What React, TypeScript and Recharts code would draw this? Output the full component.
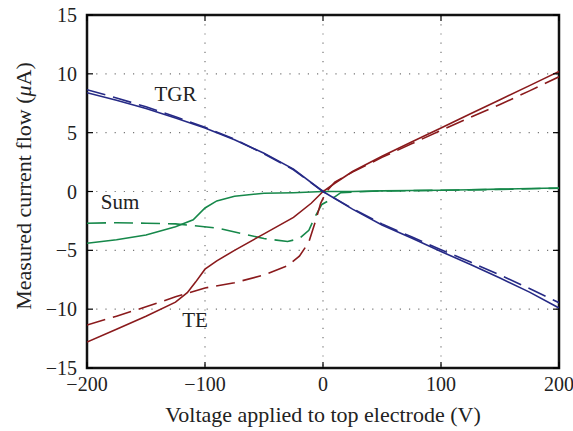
import React from 'react';
import { LineChart, Line, XAxis, YAxis, CartesianGrid, ReferenceArea, ReferenceDot } from 'recharts';

const xTicks = [-200, -100, 0, 100, 200];
const yTicks = [-15, -10, -5, 0, 5, 10, 15];

const tgrSolidV = [-200, -175, -150, -125, -100, -75, -50, -25, 0, 25, 50, 75, 100, 125, 150, 175, 200];
const tgrSolidI = [8.4, 7.75, 7.05, 6.25, 5.4, 4.4, 3.25, 1.9, 0, -1.5, -2.85, -3.95, -5.1, -6.2, -7.35, -8.55, -9.9];
const tgrDashV = [-200, -175, -150, -125, -100, -75, -50, -25, 0, 25, 50, 75, 100, 125, 150, 175, 200];
const tgrDashI = [8.65, 7.95, 7.2, 6.35, 5.45, 4.45, 3.2, 1.85, 0, -1.45, -2.75, -3.85, -4.95, -6.0, -7.1, -8.25, -9.45];

const teSolidV = [-200, -175, -150, -125, -115, -108, -100, -90, -75, -50, -25, -10, 0, 10, 25, 50, 75, 100, 125, 150, 175, 200];
const teSolidI = [-12.8, -11.7, -10.6, -9.4, -8.6, -7.7, -6.6, -5.9, -5.0, -3.6, -2.2, -1.0, 0, 0.7, 1.7, 3.0, 4.2, 5.4, 6.6, 7.8, 9.0, 10.2];
const teDashV = [-200, -175, -150, -125, -100, -75, -50, -30, -20, -12, -6, -2, 3, 10, 25, 50, 75, 100, 125, 150, 175, 200];
const teDashI = [-11.35, -10.6, -9.8, -8.95, -8.2, -7.75, -7.1, -6.3, -5.5, -4.3, -2.4, -1.0, 0, 0.8, 1.65, 2.9, 4.05, 5.2, 6.3, 7.4, 8.55, 9.75];

const sumSolidV = [-200, -175, -150, -125, -110, -100, -90, -75, -50, -25, 0, 25, 50, 75, 100, 125, 150, 175, 200];
const sumSolidI = [-4.4, -4.1, -3.7, -3.0, -2.4, -1.4, -0.8, -0.4, -0.15, -0.1, 0, 0.0, 0.05, 0.08, 0.1, 0.15, 0.2, 0.25, 0.3];
const sumDashV = [-200, -175, -150, -125, -110, -90, -70, -50, -30, -20, -12, -7, -1, 8, 15, 25, 50, 100, 150, 200];
const sumDashI = [-2.7, -2.65, -2.7, -2.75, -2.9, -3.1, -3.55, -4.0, -4.25, -4.0, -3.3, -2.2, -1.1, -0.6, -0.1, -0.05, 0.05, 0.1, 0.18, 0.28];

const zip = (v: number[], i: number[]) => v.map((x, k) => ({ v: x, i: i[k] }));

const BLUE = '#262a86';
const RED = '#8a1a1c';
const GREEN = '#16884a';
const FONT = '"Liberation Serif", "Times New Roman", serif';
const TFS = 20;
const LFS = 22;

const PL = 87, PR = 559, PT = 15, PB = 368;
const fmt = (n: number) => (n < 0 ? '\u2212' + Math.abs(n) : String(n));

const XTick = (props: any) => {
  const { x, payload } = props;
  return (
    <g>
      <line x1={x} x2={x} y1={PB} y2={PB - 6} stroke="#000" strokeWidth={1.2} />
      <line x1={x} x2={x} y1={PT} y2={PT + 6} stroke="#000" strokeWidth={1.2} />
      <text x={x} y={PB + 23} textAnchor="middle" fontFamily={FONT} fontSize={TFS} fill="#222">
        {fmt(payload.value)}
      </text>
    </g>
  );
};

const YTick = (props: any) => {
  const { y, payload } = props;
  return (
    <g>
      <line x1={PL} x2={PL + 6} y1={y} y2={y} stroke="#000" strokeWidth={1.2} />
      <line x1={PR} x2={PR - 6} y1={y} y2={y} stroke="#000" strokeWidth={1.2} />
      <text x={PL - 10} y={y + 7} textAnchor="end" fontFamily={FONT} fontSize={TFS} fill="#222">
        {fmt(payload.value)}
      </text>
    </g>
  );
};

const txt = (s: string) => (props: any) => {
  const { viewBox } = props;
  const cx = viewBox.x + (viewBox.width || 0) / 2;
  const cy = viewBox.y + (viewBox.height || 0) / 2;
  return (
    <text x={cx} y={cy + 7} textAnchor="middle" fontFamily={FONT} fontSize={21} fill="#222">
      {s}
    </text>
  );
};

const XLabel = () => (
  <text x={323} y={422} textAnchor="middle" fontFamily={FONT} fontSize={LFS} fill="#222">
    Voltage applied to top electrode (V)
  </text>
);

const YLabel = () => (
  <text
    x={0}
    y={0}
    transform={`translate(31, 186) rotate(-90)`}
    textAnchor="middle"
    fontFamily={FONT}
    fontSize={LFS}
    fill="#222"
  >
    Measured current flow (<tspan fontStyle="italic">μ</tspan>A)
  </text>
);

export default function App() {
  return (
    <div style={{ position: 'absolute', left: 0, top: 0, width: 573, height: 431, background: '#fff' }}>
      <LineChart width={573} height={431} margin={{ top: PT, right: 573 - PR, bottom: 431 - PB - 50, left: PL - 60 }}>
        <CartesianGrid stroke="#777" strokeDasharray="1.2 8" strokeWidth={1.2} horizontalValues={yTicks} verticalValues={xTicks} />
        <XAxis
          dataKey="v"
          type="number"
          domain={[-200, 200]}
          ticks={xTicks}
          allowDataOverflow
          height={50}
          axisLine={false}
          tickLine={false}
          tick={<XTick />}
          label={<XLabel />}
        />
        <YAxis
          type="number"
          domain={[-15, 15]}
          ticks={yTicks}
          allowDataOverflow
          width={60}
          axisLine={false}
          tickLine={false}
          tick={<YTick />}
          label={<YLabel />}
        />
        <Line data={zip(sumSolidV, sumSolidI)} dataKey="i" stroke={GREEN} strokeWidth={1.6} dot={false} isAnimationActive={false} />
        <Line data={zip(sumDashV, sumDashI)} dataKey="i" stroke={GREEN} strokeWidth={1.6} strokeDasharray="19 8" dot={false} isAnimationActive={false} />
        <Line data={zip(teSolidV, teSolidI)} dataKey="i" stroke={RED} strokeWidth={1.6} dot={false} isAnimationActive={false} />
        <Line data={zip(teDashV, teDashI)} dataKey="i" stroke={RED} strokeWidth={1.6} strokeDasharray="19 8" dot={false} isAnimationActive={false} />
        <Line data={zip(tgrSolidV, tgrSolidI)} dataKey="i" stroke={BLUE} strokeWidth={1.6} dot={false} isAnimationActive={false} />
        <Line data={zip(tgrDashV, tgrDashI)} dataKey="i" stroke={BLUE} strokeWidth={1.6} strokeDasharray="19 8" dot={false} isAnimationActive={false} />
        <ReferenceArea x1={-200} x2={200} y1={-15} y2={15} fill="none" stroke="#111" strokeWidth={2.5} ifOverflow="visible" />
        <ReferenceDot x={-125} y={8.28} r={0} fill="none" stroke="none" label={txt('TGR')} />
        <ReferenceDot x={-172} y={-0.93} r={0} fill="none" stroke="none" label={txt('Sum')} />
        <ReferenceDot x={-108.5} y={-10.9} r={0} fill="none" stroke="none" label={txt('TE')} />
      </LineChart>
    </div>
  );
}
